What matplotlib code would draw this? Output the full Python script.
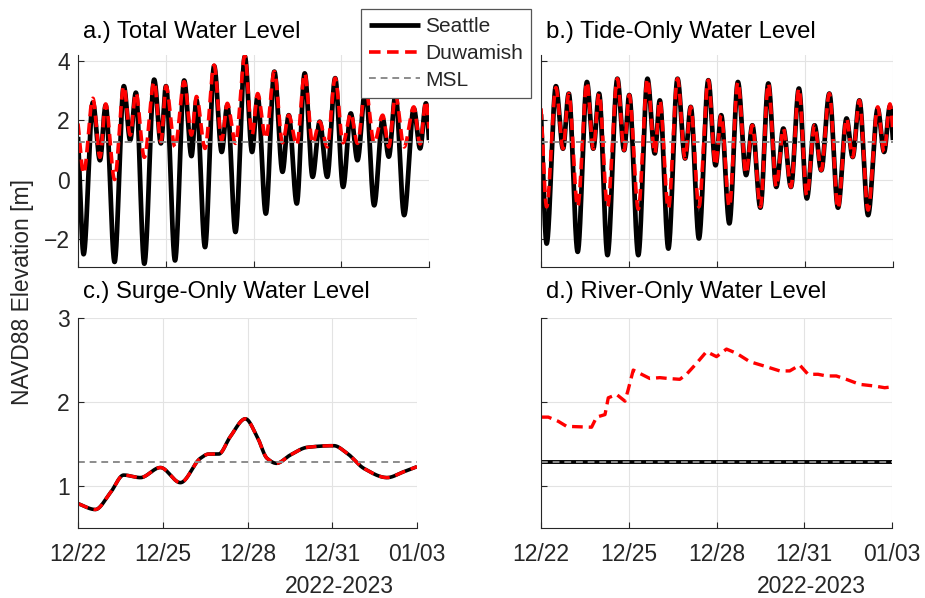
# Water level components, Seattle vs Duwamish, Dec 2022 - Jan 2023
import numpy as np
import pandas as pd
import matplotlib
matplotlib.use('Agg')
import matplotlib.pyplot as plt
import matplotlib.dates as mdates

plt.rcParams['font.family'] = ['Liberation Sans', 'DejaVu Sans']
plt.rcParams['font.size'] = 16.5
plt.rcParams['text.color'] = '#262626'

# ---- data ----
t_start = pd.Timestamp('2022-12-22 00:00')
msl = 1.28

# times of highs / lows [hours after t_start]
tide_hours = [0, 4.6, 12.2, 18, 22.7, 30, 37.6, 42.8, 47.5, 54.4, 62.5, 68,
              72.2, 79.6, 87.1, 93.1, 97.2, 104.2, 111.7, 117.9, 122.5, 129.2,
              136.9, 142.8, 147.4, 154.1, 161.1, 167.8, 172.9, 179.5, 186,
              192.5, 198.3, 204.5, 211, 217.5, 223.8, 229.3, 235.9, 243, 250,
              255, 260.5, 267.6, 275.5, 280.7, 285.5, 288]

total_seattle = [1.44, -2.52, 2.6, 0.65, 2.5, -2.78, 3.15, 1.33, 2.93, -2.84,
                 3.37, 1.22, 3.15, -2.73, 3.34, 0.79, 2.68, -2.28, 3.83, 0.93,
                 2.5, -1.77, 4.15, 0.93, 2.8, -1.15, 3.64, 0.26, 2.17, -0.81,
                 3.58, 0.09, 1.95, 0.09, 3.42, -0.25, 2.23, 0.65, 3.1, -0.87,
                 2.05, 0.77, 2.85, -1.2, 2.4, 1.05, 2.57, 1.33]
total_duwamish = [1.89, 0.2, 2.74, 0.75, 2.55, 0.0, 3.15, 1.5, 2.93, 0.75,
                  3.3, 1.27, 3.15, 1.1, 3.3, 1.5, 2.8, 1.05, 3.86, 1.33,
                  2.57, 1.22, 4.17, 1.5, 2.9, 1.38, 3.64, 1.24, 2.17, 1.16,
                  3.58, 1.22, 1.95, 1.1, 3.42, 1.24, 2.23, 1.22, 3.1, 1.24,
                  2.17, 1.1, 2.85, 1.1, 2.45, 1.2, 2.65, 1.72]

tide_seattle = [2.2, -2.16, 3.15, 1.04, 2.9, -2.44, 3.29, 1.04, 2.9, -2.55,
                3.4, 0.99, 2.85, -2.55, 3.4, 0.88, 2.67, -2.33, 3.4, 0.71,
                2.45, -1.99, 3.35, 0.48, 2.17, -1.48, 3.29, 0.15, 1.83, -0.95,
                3.24, -0.25, 1.72, -0.25, 3.07, -0.64, 1.83, 0.31, 2.9, -0.95,
                2.06, 0.76, 2.67, -1.2, 2.39, 0.93, 2.47, 1.33]
tide_duwamish = [2.4, -0.92, 3.1, 1.04, 2.9, -0.92, 3.29, 1.04, 2.9, -0.92,
                 3.4, 0.99, 2.85, -1.0, 3.4, 0.88, 2.67, -0.98, 3.4, 0.71,
                 2.45, -0.92, 3.35, 0.48, 2.17, -0.92, 3.29, 0.2, 1.83, -0.92,
                 3.24, -0.25, 1.72, -0.25, 3.07, -0.55, 1.83, 0.31, 2.9, -0.98,
                 2.06, 0.76, 2.67, -1.03, 2.45, 0.93, 2.55, 1.6]

surge_hours = [0, 14.7, 27.5, 38.8, 53, 70, 87, 104, 111, 119.5, 129.5, 142.2,
               152.1, 160.6, 168.6, 180.5, 194.6, 217.3, 228.6, 242.8, 262.6,
               276.8, 288]
surge_level = [0.79, 0.72, 0.92, 1.13, 1.10, 1.22, 1.04, 1.33, 1.38, 1.38,
               1.59, 1.80, 1.59, 1.33, 1.27, 1.37, 1.46, 1.48, 1.39, 1.21,
               1.10, 1.17, 1.23]

river_hours = [0, 6, 14.2, 21, 41.5, 45.6, 52.5, 55.2, 62, 68.9, 71.6, 75.7,
               82.5, 89.3, 97.5, 104.4, 113.9, 119.4, 127.6, 135.8, 144, 152.2,
               160.4, 171.3, 185, 195.9, 204.1, 212.3, 219.1, 227.3, 234.2,
               242.3, 250.5, 261.5, 273.8, 282, 288]
river_duwamish = [1.82, 1.82, 1.77, 1.71, 1.70, 1.82, 1.85, 2.05, 2.09, 2.01,
                  2.15, 2.38, 2.33, 2.28, 2.29, 2.28, 2.27, 2.33, 2.46, 2.60,
                  2.54, 2.63, 2.58, 2.48, 2.42, 2.37, 2.37, 2.44, 2.33, 2.33,
                  2.31, 2.31, 2.27, 2.21, 2.19, 2.17, 2.18]


def pchip(x, y, xn):
    # shape preserving cubic through the read points
    x = np.asarray(x, float)
    y = np.asarray(y, float)
    h = np.diff(x)
    d = np.diff(y) / h
    m = np.zeros_like(y)
    for k in range(1, len(x) - 1):
        if d[k - 1] * d[k] > 0:
            w1 = 2 * h[k] + h[k - 1]
            w2 = h[k] + 2 * h[k - 1]
            m[k] = (w1 + w2) / (w1 / d[k - 1] + w2 / d[k])
    m[0] = d[0]
    m[-1] = d[-1]
    i = np.clip(np.searchsorted(x, xn) - 1, 0, len(x) - 2)
    t = (xn - x[i]) / h[i]
    h00 = 2 * t**3 - 3 * t**2 + 1
    h10 = t**3 - 2 * t**2 + t
    h01 = -2 * t**3 + 3 * t**2
    h11 = t**3 - t**2
    return h00 * y[i] + h10 * h[i] * m[i] + h01 * y[i + 1] + h11 * h[i] * m[i + 1]


hours = np.linspace(0, 288, 3000)
times = t_start + pd.to_timedelta(hours, unit='h')
t_end = t_start + pd.Timedelta(hours=288)

col_text = '#262626'
col_msl = '#8c8c8c'

fig = plt.figure(figsize=(9.25, 5.98), dpi=100)
W, H = 925, 598


def add_ax(left, right, top, bottom):
    return fig.add_axes([left / W, 1 - bottom / H, (right - left) / W, (bottom - top) / H])


ax_a = add_ax(78, 429, 55, 267)
ax_b = add_ax(541, 893, 55, 267)
ax_c = add_ax(78, 417, 318, 528)
ax_d = add_ax(541, 892, 318, 528)


def draw(ax, sea, duw, lw_sea=3.4, lw_duw=2.6):
    ax.plot(sea[0], sea[1], color='k', lw=lw_sea, solid_capstyle='butt', label='Seattle')
    ax.plot(duw[0], duw[1], color='#ff0000', lw=lw_duw, ls=(0, (3.2, 1.8)), label='Duwamish')
    ax.axhline(msl, color=col_msl, lw=1.4, ls=(0, (3.5, 2.5)), label='MSL')


draw(ax_a, (times, pchip(tide_hours, total_seattle, hours)),
     (times, pchip(tide_hours, total_duwamish, hours)))
draw(ax_b, (times, pchip(tide_hours, tide_seattle, hours)),
     (times, pchip(tide_hours, tide_duwamish, hours)))
surge = pchip(surge_hours, surge_level, hours)
draw(ax_c, (times, surge), (times, surge), lw_sea=2.6, lw_duw=2.4)
river_t = t_start + pd.to_timedelta(river_hours, unit='h')
draw(ax_d, ([t_start, t_end], [msl, msl]), (river_t, river_duwamish), lw_sea=2.8, lw_duw=2.4)

tick_days = pd.date_range('2022-12-22', '2023-01-03', freq='3D')
for ax in (ax_a, ax_b, ax_c, ax_d):
    ax.set_xlim(t_start, t_end)
    ax.set_xticks(tick_days)
    ax.xaxis.set_major_formatter(mdates.DateFormatter('%m/%d'))
    ax.grid(True, color='#e3e3e3', lw=0.8)
    ax.set_axisbelow(True)
    for s in ('top', 'right'):
        ax.spines[s].set_visible(False)
    for s in ('left', 'bottom'):
        ax.spines[s].set_color(col_text)
        ax.spines[s].set_linewidth(0.8)
    ax.tick_params(direction='in', length=4, width=0.8, color=col_text,
                   labelcolor=col_text, labelsize=16.5)
    ax.tick_params(axis='y', pad=6)
    ax.tick_params(axis='x', pad=11)

for ax in (ax_a, ax_b):
    ax.set_ylim(-2.95, 4.2)
    ax.set_yticks([-2, 0, 2, 4])
    ax.tick_params(axis='x', labelbottom=False)
for ax in (ax_c, ax_d):
    ax.set_ylim(0.5, 3)
    ax.set_yticks([1, 2, 3])
    ax.text(0.77, -0.28, '2022-2023', transform=ax.transAxes, ha='center',
            va='center', fontsize=16.5, color=col_text)
ax_b.tick_params(axis='y', labelleft=False)
ax_d.tick_params(axis='y', labelleft=False)

titles = [(ax_a, 'a.) Total Water Level', 1.080), (ax_b, 'b.) Tide-Only Water Level', 1.080),
          (ax_c, 'c.) Surge-Only Water Level', 1.095), (ax_d, 'd.) River-Only Water Level', 1.095)]
for ax, txt, yy in titles:
    ax.text(0.014, yy, txt, transform=ax.transAxes, ha='left', va='baseline',
            fontsize=17.2, color='#000000')

fig.text(23 / W, 1 - 292 / H, 'NAVD88 Elevation [m]', rotation=90, ha='center',
         va='center', fontsize=16.5, color=col_text)

h, l = ax_a.get_legend_handles_labels()
leg = fig.legend(h, l, loc='upper left', bbox_to_anchor=(361 / W, 1 - 9 / H),
                 borderaxespad=0, fontsize=15, handlelength=2.45, handletextpad=0.25,
                 labelspacing=0.38, borderpad=0.38, fancybox=False, framealpha=1)
leg.get_frame().set_edgecolor('#555555')
leg.get_frame().set_linewidth(0.9)

fig.savefig('out.png', dpi=100)
